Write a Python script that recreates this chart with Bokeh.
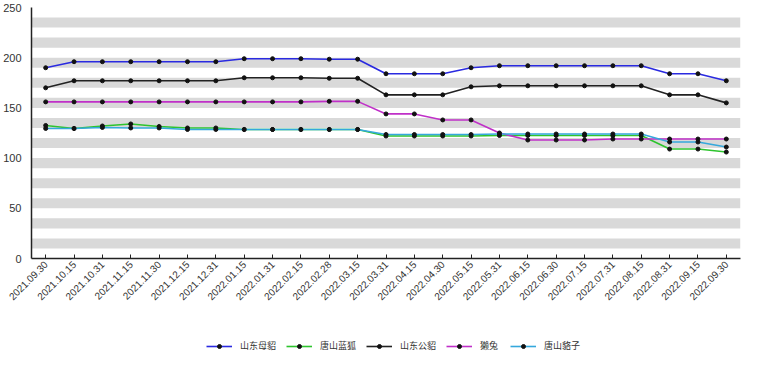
import math
from bokeh.plotting import figure
from bokeh.layouts import column
from bokeh.models import ColumnDataSource, Legend, LegendItem, SingleIntervalTicker, FixedTicker, Range1d
from bokeh.embed import file_html
from bokeh.resources import INLINE

dates = ["2021.09.30", "2021.10.15", "2021.10.31", "2021.11.15", "2021.11.30", "2021.12.15", "2021.12.31",
         "2022.01.15", "2022.01.31", "2022.02.15", "2022.02.28", "2022.03.15", "2022.03.31", "2022.04.15",
         "2022.04.30", "2022.05.15", "2022.05.31", "2022.06.15", "2022.06.30", "2022.07.15", "2022.07.31",
         "2022.08.15", "2022.08.31", "2022.09.15", "2022.09.30"]

sd_female = [190, 196, 196, 196, 196, 196, 196, 199, 199, 199, 198.5, 198.5, 184, 184, 184, 190, 192, 192, 192, 192, 192, 192, 184, 184, 177]
ts_bluefox = [132.5, 129.5, 132, 134, 131.5, 130, 130, 128.5, 128.5, 128.5, 128.5, 128.5, 122, 122, 122, 122, 122.5, 122.5, 122.5, 122.5, 122.5, 122.5, 109, 109, 106]
sd_male = [170, 177, 177, 177, 177, 177, 177, 180, 180, 180, 179.5, 179.5, 163, 163, 163, 171, 172, 172, 172, 172, 172, 172, 163, 163, 155]
rex_rabbit = [156, 156, 156, 156, 156, 156, 156, 156, 156, 156, 156.5, 156.5, 144, 144, 138, 138, 125, 118, 118, 118, 119, 119, 119, 119, 119]
ts_raccoon = [129.5, 129.5, 130.5, 130, 130, 128.5, 128.5, 128.5, 128.5, 128.5, 128.5, 128.5, 123.5, 123.5, 123.5, 123.5, 124, 124, 124, 124, 124, 124, 116, 116, 111]

series_names = ["山东母貂", "唐山蓝狐", "山东公貂", "獭兔", "唐山貉子"]
series_values = [sd_female, ts_bluefox, sd_male, rex_rabbit, ts_raccoon]
series_colors = ["#2a2ae0", "#2ec42e", "#222222", "#c030c8", "#35a8dc"]

p = figure(x_range=dates, y_range=(0, 250), width=742, height=306,
           output_backend="svg", toolbar_location=None,
           min_border_left=25, min_border_right=2, min_border_top=7, min_border_bottom=4)
p.outline_line_color = None
p.background_fill_color = "white"

p.xgrid.grid_line_color = None
p.ygrid.grid_line_color = None
p.ygrid.ticker = SingleIntervalTicker(interval=10)
p.ygrid.band_fill_color = "#d9d9d9"
p.ygrid.band_fill_alpha = 1.0

p.yaxis.ticker = FixedTicker(ticks=[0, 50, 100, 150, 200, 250])
p.yaxis.major_tick_line_color = None
p.yaxis.minor_tick_line_color = None
p.yaxis.axis_line_color = "#222222"
p.yaxis.axis_line_width = 1.5
p.yaxis.major_label_text_font = "Liberation Sans"
p.yaxis.major_label_text_font_size = "11px"
p.yaxis.major_label_text_color = "#333333"
p.yaxis.major_label_standoff = 4

p.xaxis.axis_line_color = "#222222"
p.xaxis.axis_line_width = 1.5
p.xaxis.major_tick_in = 4
p.xaxis.major_tick_out = 0
p.xaxis.major_tick_line_color = "#222222"
p.xaxis.major_label_orientation = math.pi / 4
p.xaxis.major_label_text_font = "Liberation Sans"
p.xaxis.major_label_text_font_size = "10px"
p.xaxis.major_label_text_color = "#333333"
p.xaxis.major_label_standoff = 4

# legend figure (same series, drawn outside its visible range so only the legend shows)
pl = figure(x_range=dates, y_range=Range1d(1000, 1001), width=742, height=48,
            output_backend="svg", toolbar_location=None,
            min_border_left=25, min_border_right=2, min_border_top=26, min_border_bottom=0)
pl.outline_line_color = None
pl.axis.visible = False
pl.grid.grid_line_color = None

items = []
for name, vals, col in zip(series_names, series_values, series_colors):
    src = ColumnDataSource(dict(x=dates, y=vals))
    p.line("x", "y", source=src, line_color=col, line_width=1.6)
    p.scatter("x", "y", source=src, size=4, fill_color="#111111", line_color="#111111")
    ln = pl.line("x", "y", source=src, line_color=col, line_width=1.6)
    sc = pl.scatter("x", "y", source=src, size=4, fill_color="#111111", line_color="#111111")
    items.append(LegendItem(label=name, renderers=[ln, sc]))

legend = Legend(items=items, orientation="horizontal", location=(175, 2),
                border_line_color=None, background_fill_alpha=0,
                label_text_font="Noto Sans CJK SC", label_text_font_size="9px",
                label_text_color="#333333", glyph_width=26, glyph_height=10,
                spacing=10, padding=2, margin=0, label_standoff=8)
pl.add_layout(legend, "center")

layout = column(p, pl, spacing=0)
open("out.html", "w").write(file_html(layout, INLINE))
